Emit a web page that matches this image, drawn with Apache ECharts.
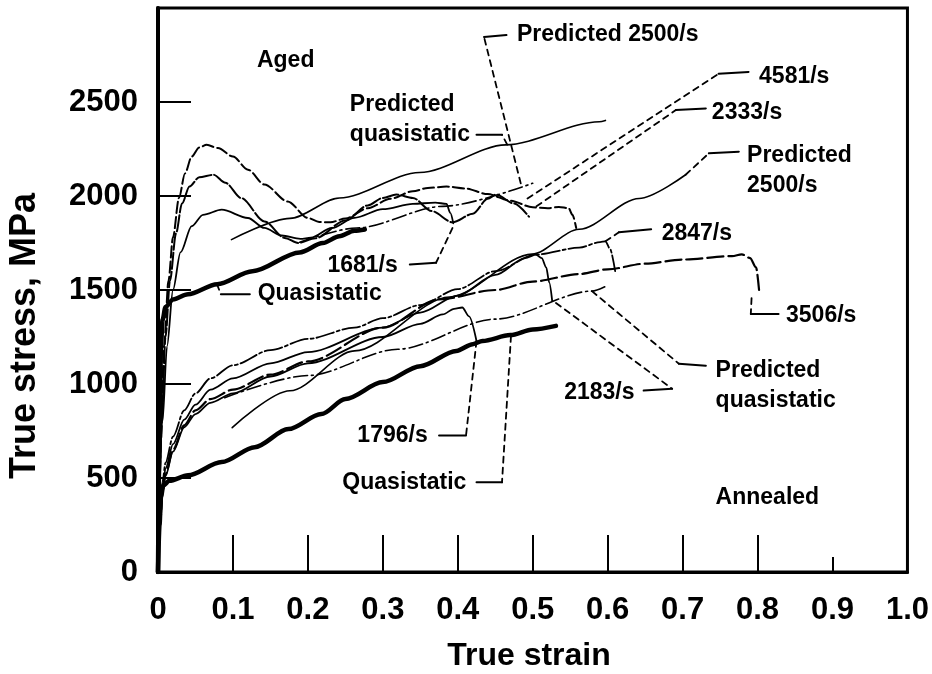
<!DOCTYPE html>
<html>
<head>
<meta charset="utf-8">
<script src="https://cdn.jsdelivr.net/npm/echarts@6/dist/echarts.min.js"></script>
<style>
html, body { margin: 0; padding: 0; background: #fff; }
#chart { width: 932px; height: 674px; }
</style>
</head>
<body>
<div id="chart"></div>
<script>
// ---- Axis ticks ----
const strainTicks = [0, 0.1, 0.2, 0.3, 0.4, 0.5, 0.6, 0.7, 0.8, 0.9, 1.0];
const longStrainTicks = [0.1, 0.2, 0.3, 0.4, 0.5, 0.6, 0.7, 0.8];
const shortStrainTicks = [0.9];
const stressTicks = [0, 500, 1000, 1500, 2000, 2500];

// ---- Aged material: [true strain, true stress (MPa)] ----
const agedQuasistatic = [[0,0],[0.002,700],[0.004,1200],[0.006,1340],[0.01,1410],[0.02,1450],[0.04,1478],[0.079,1531],[0.126,1600],[0.189,1700],[0.22,1750],[0.242,1786],[0.262,1815],[0.276,1822]];
const aged4581 = [[0,0],[0.004,700],[0.008,1200],[0.014,1550],[0.02,1780],[0.028,1990],[0.036,2120],[0.045,2210],[0.055,2258],[0.065,2272],[0.08,2255],[0.1,2210],[0.12,2140],[0.142,2061],[0.173,1971],[0.2,1883],[0.215,1862],[0.23,1860],[0.25,1880],[0.28,1935],[0.31,1985],[0.34,2025],[0.36,2043],[0.385,2050],[0.41,2040],[0.44,2010],[0.47,1975],[0.5,1940],[0.52,1935],[0.535,1942],[0.548,1935],[0.553,1900],[0.558,1830]];
const aged2333 = [[0,0],[0.005,800],[0.01,1250],[0.016,1550],[0.024,1800],[0.032,1960],[0.042,2050],[0.055,2100],[0.074,2113],[0.09,2070],[0.111,1989],[0.142,1865],[0.169,1777],[0.187,1750],[0.21,1775],[0.25,1870],[0.28,1950],[0.3,1990],[0.318,2008],[0.34,1990],[0.365,1920],[0.393,1860],[0.42,1905],[0.44,1985],[0.451,2008],[0.475,1960],[0.495,1890]];
const aged1681 = [[0,0],[0.006,800],[0.012,1200],[0.02,1500],[0.03,1700],[0.045,1840],[0.06,1900],[0.085,1927],[0.12,1883],[0.142,1830],[0.165,1790],[0.19,1772],[0.204,1778],[0.232,1830],[0.262,1884],[0.3,1930],[0.34,1958],[0.37,1965],[0.385,1958],[0.39,1910],[0.394,1855]];
const agedPredictedQuasistatic = [[0.098,1768],[0.176,1881],[0.242,1989],[0.349,2125],[0.464,2272],[0.589,2395],[0.597,2402]];
const agedPredicted2500 = [[0.189,1754],[0.265,1830],[0.38,1945],[0.5,2068]];

// ---- Annealed material ----
const annealedQuasistatic = [[0,0],[0.002,250],[0.004,400],[0.007,460],[0.015,485],[0.04,514],[0.085,585],[0.129,664],[0.174,760],[0.218,840],[0.25,920],[0.3,1010],[0.35,1095],[0.398,1176],[0.42,1212],[0.433,1229],[0.47,1260],[0.5,1290],[0.531,1309]];
const annealed2847 = [[0,0],[0.003,300],[0.006,480],[0.01,580],[0.02,720],[0.035,860],[0.05,950],[0.07,1030],[0.1,1100],[0.15,1180],[0.2,1240],[0.262,1300],[0.3,1350],[0.35,1420],[0.4,1505],[0.45,1600],[0.504,1688],[0.562,1725],[0.59,1755],[0.597,1759],[0.603,1720],[0.61,1600]];
const annealed2183 = [[0,0],[0.003,280],[0.006,450],[0.01,550],[0.02,680],[0.035,810],[0.05,890],[0.07,970],[0.1,1030],[0.15,1110],[0.2,1170],[0.3,1300],[0.35,1380],[0.4,1470],[0.45,1580],[0.49,1670],[0.504,1688],[0.512,1670],[0.518,1620],[0.522,1540],[0.526,1441]];
const annealed3506 = [[0,0],[0.003,260],[0.006,430],[0.01,520],[0.02,650],[0.035,780],[0.05,860],[0.07,920],[0.1,970],[0.15,1050],[0.2,1120],[0.3,1300],[0.375,1450],[0.45,1500],[0.5,1545],[0.562,1585],[0.6,1610],[0.65,1640],[0.7,1662],[0.766,1680],[0.779,1690],[0.79,1670],[0.798,1620],[0.802,1500]];
const annealed1796 = [[0,0],[0.003,250],[0.006,420],[0.01,510],[0.02,640],[0.035,770],[0.05,840],[0.07,900],[0.1,950],[0.15,1040],[0.2,1110],[0.3,1250],[0.35,1320],[0.38,1370],[0.395,1400],[0.406,1407],[0.415,1360],[0.425,1229]];
const annealedPredictedQuasistatic = [[0.089,927],[0.2,1045],[0.32,1185],[0.45,1345],[0.579,1494],[0.598,1521]];
const annealedPredicted2500 = [[0.099,768],[0.176,964],[0.262,1176],[0.389,1463],[0.499,1691],[0.562,1823],[0.642,1987],[0.704,2113]];

// ---- Annotation text anchors [strain, stress] ----
const labelTexts = ['Aged', 'Predicted 2500/s', 'Predicted\nquasistatic', '4581/s', '2333/s', 'Predicted\n2500/s', '2847/s', '1681/s', 'Quasistatic', '3506/s', 'Predicted\nquasistatic', '2183/s', '1796/s', 'Quasistatic', 'Annealed'];
const labelAnchors = [[0.132,2719],[0.479,2856],[0.256,2406],[0.802,2634],[0.739,2443],[0.786,2136],[0.672,1802],[0.226,1627],[0.133,1478],[0.838,1362],[0.744,991],[0.542,954],[0.266,726],[0.246,477],[0.744,397]];

// ---- Leader lines from labels to curves ----
const leaders = [
  [[0.0786,1531],[0.0839,1478],[0.1225,1478]],
  [[0.393,1830],[0.371,1645],[0.336,1636]],
  [[0.484,2067],[0.435,2846],[0.465,2856]],
  [[0.466,2273],[0.459,2326],[0.425,2326]],
  [[0.493,1987],[0.748,2650],[0.788,2660]],
  [[0.505,1945],[0.691,2457],[0.731,2466]],
  [[0.704,2113],[0.735,2227],[0.775,2236]],
  [[0.597,1759],[0.615,1807],[0.658,1823]],
  [[0.792,1457],[0.791,1373],[0.828,1373]],
  [[0.579,1494],[0.695,1108],[0.731,1097]],
  [[0.531,1431],[0.686,975],[0.648,965]],
  [[0.425,1229],[0.411,726],[0.375,726]],
  [[0.471,1256],[0.459,477],[0.425,477]]
];

const FONT = '"Liberation Sans", Arial, Helvetica, sans-serif';
const chart = echarts.init(document.getElementById('chart'), null, { renderer: 'canvas' });

function curve(data, width, dash, smooth) {
  return {
    type: 'line', data: data, symbol: 'none', silent: true,
    smooth: smooth === undefined ? 0.3 : smooth, smoothMonotone: 'x',
    lineStyle: { color: '#000', width: width, type: dash || 'solid', cap: 'round', join: 'round' },
    z: 3
  };
}

const series = [
  curve(agedQuasistatic, 4.5, 'solid'),
  curve(aged4581, 2, [11, 4]),
  curve(aged2333, 2, [16, 3]),
  curve(aged1681, 1.8, 'solid'),
  curve(agedPredictedQuasistatic, 1.6, 'solid'),
  curve(agedPredicted2500, 1.6, [14, 4, 2, 4]),
  curve(annealedQuasistatic, 4.5, 'solid'),
  curve(annealed2847, 1.8, [18, 3, 3, 3]),
  curve(annealed2183, 1.8, 'solid'),
  curve(annealed3506, 2.2, [16, 5]),
  curve(annealed1796, 1.8, 'solid'),
  curve(annealedPredictedQuasistatic, 1.6, [14, 4, 2, 4]),
  curve(annealedPredicted2500, 1.6, 'solid')
];

leaders.forEach(function (pts) {
  series.push(curve(pts.slice(0, pts.length - 1), 1.8, [6, 5], false));
  series.push(curve(pts.slice(pts.length - 2), 2, 'solid', false));
});

series.push({
  type: 'scatter', symbol: 'circle', symbolSize: 0, silent: true, z: 5,
  itemStyle: { color: '#000' },
  data: labelAnchors.map(function (p, i) { return { value: p, name: labelTexts[i] }; }),
  label: {
    show: true, position: 'right', distance: 0, opacity: 1,
    formatter: function (p) { return p.name; },
    color: '#000', textBorderWidth: 0, fontFamily: FONT, fontWeight: 'bold', fontSize: 23, lineHeight: 30
  }
});

const tickLabelStyle = { color: '#000', fontFamily: FONT, fontWeight: 'bold', fontSize: 31 };

chart.setOption({
  animation: false,
  backgroundColor: '#fff',
  grid: { left: 158, right: 24, top: 8, bottom: 102, show: true, borderColor: '#000', borderWidth: 3 },
  xAxis: [{
    type: 'value', min: strainTicks[0], max: strainTicks[strainTicks.length - 1], interval: 0.1,
    position: 'bottom',
    axisLine: { show: true, lineStyle: { color: '#000', width: 3 } },
    axisTick: { show: true, inside: true, length: 37, customValues: longStrainTicks, lineStyle: { color: '#000', width: 2 } },
    splitLine: { show: false },
    axisLabel: Object.assign({ margin: 23, formatter: function (v) { return v === 0 ? '0' : v.toFixed(1); } }, tickLabelStyle)
  }, {
    type: 'value', min: strainTicks[0], max: strainTicks[strainTicks.length - 1], interval: 0.1,
    position: 'bottom', offset: 0,
    axisLine: { show: false },
    axisTick: { show: true, inside: true, length: 15, customValues: shortStrainTicks, lineStyle: { color: '#000', width: 2 } },
    splitLine: { show: false },
    axisLabel: { show: false }
  }],
  yAxis: {
    type: 'value', min: 0, max: 3000, interval: 500,
    axisLine: { show: true, lineStyle: { color: '#000', width: 4 } },
    axisTick: { show: true, inside: true, length: 33, lineStyle: { color: '#000', width: 2 } },
    splitLine: { show: false },
    axisLabel: Object.assign({ margin: 20, formatter: function (v) { return stressTicks.indexOf(v) >= 0 ? String(v) : ''; } }, tickLabelStyle)
  },
  graphic: [
    { type: 'text', x: 529, y: 656, silent: true,
      style: { text: 'True strain', fill: '#000', font: 'bold 32px ' + FONT, textAlign: 'center', textVerticalAlign: 'middle' } },
    { type: 'text', x: 25, y: 336, rotation: Math.PI / 2, silent: true,
      style: { text: 'True stress, MPa', fill: '#000', font: 'bold 36px ' + FONT, textAlign: 'center', textVerticalAlign: 'middle' } }
  ],
  series: series
});
</script>
</body>
</html>
